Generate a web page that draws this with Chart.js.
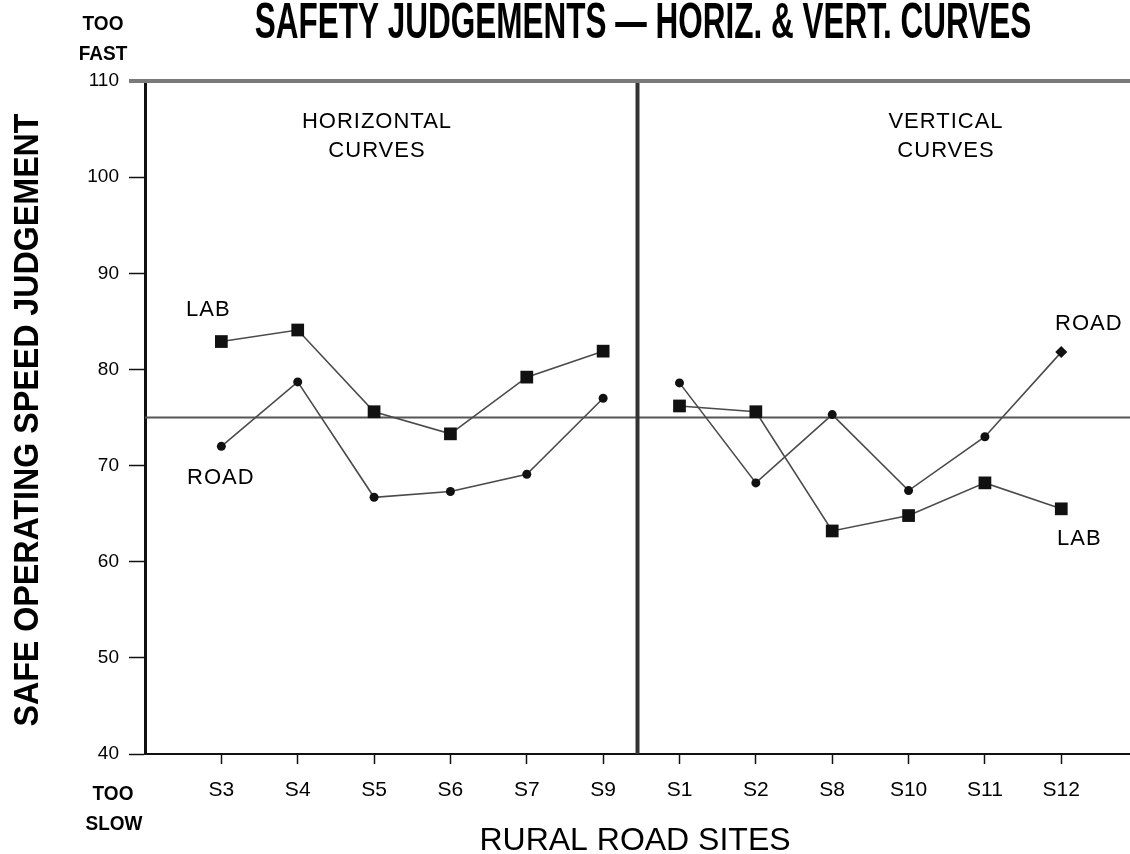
<!DOCTYPE html>
<html>
<head>
<meta charset="utf-8">
<script src="https://cdn.jsdelivr.net/npm/chart.js@4/dist/chart.umd.min.js"></script>
<style>
  html, body { margin: 0; padding: 0; background: #fff; overflow: hidden; }
  canvas { display: block; }
</style>
</head>
<body>
<canvas id="safetyChart" width="1130" height="854"></canvas>
<script>
// rural road sites, horizontal curves first then vertical curves
const sites = ["S3", "S4", "S5", "S6", "S7", "S9", "S1", "S2", "S8", "S10", "S11", "S12"];
const horizCount = 6;

// safe operating speed judgements (km/h)
const labValues = [82.9, 84.1, 75.6, 73.3, 79.2, 81.9, 76.2, 75.6, 63.2, 64.8, 68.2, 65.5];
const roadValues = [72.0, 78.7, 66.7, 67.3, 69.1, 77.0, 78.6, 68.2, 75.3, 67.4, 73.0, 81.8];

const yTicks = [40, 50, 60, 70, 80, 90, 100, 110];
const neutralSpeed = 75;
const dividerAt = 5.45;

const FONT = '"Liberation Sans", Arial, Helvetica, sans-serif';

function points(values, from, to) {
  return values.slice(from, to).map((v, i) => ({ x: from + i, y: v }));
}

function series(label, values, from, to, style, radius) {
  return {
    label: label,
    data: points(values, from, to),
    borderColor: "#4a4a4a",
    borderWidth: 1.6,
    pointStyle: style,
    pointRadius: radius,
    pointBackgroundColor: "#111",
    pointBorderColor: "#111",
    pointBorderWidth: 0,
    fill: false,
    tension: 0
  };
}

const roadVert = series("ROAD", roadValues, horizCount, sites.length, "circle", 4.5);
roadVert.pointStyle = roadVert.data.map((p, i) => i === roadVert.data.length - 1 ? "rectRot" : "circle");
roadVert.pointRadius = roadVert.data.map((p, i) => i === roadVert.data.length - 1 ? 6 : 4.5);

const datasets = [
  series("LAB", labValues, 0, horizCount, "rect", 9),
  series("ROAD", roadValues, 0, horizCount, "circle", 4.5),
  series("LAB", labValues, horizCount, sites.length, "rect", 9),
  roadVert
];

function text(ctx, str, x, y, font, align, scaleX, spacing) {
  ctx.save();
  ctx.font = font;
  ctx.fillStyle = "#000";
  ctx.textAlign = align || "center";
  ctx.textBaseline = "alphabetic";
  if (spacing) ctx.letterSpacing = spacing + "px";
  ctx.translate(x, y);
  if (scaleX) ctx.scale(scaleX, 1);
  ctx.fillText(str, 0, 0);
  ctx.restore();
}

// reference lines, frame and all free-standing text
const decorations = {
  id: "decorations",
  beforeDatasetsDraw(chart) {
    const ctx = chart.ctx;
    const area = chart.chartArea;
    const xs = chart.scales.x;
    const ys = chart.scales.y;

    ctx.save();
    // "just right" line
    const y75 = ys.getPixelForValue(neutralSpeed);
    ctx.strokeStyle = "#555";
    ctx.lineWidth = 2;
    ctx.beginPath();
    ctx.moveTo(area.left, y75);
    ctx.lineTo(area.right, y75);
    ctx.stroke();

    // divider between the two groups of curves
    const xd = xs.getPixelForValue(dividerAt);
    ctx.strokeStyle = "#333";
    ctx.lineWidth = 4;
    ctx.beginPath();
    ctx.moveTo(xd, area.top);
    ctx.lineTo(xd, area.bottom);
    ctx.stroke();

    // top frame
    ctx.strokeStyle = "#7a7a7a";
    ctx.lineWidth = 4;
    ctx.beginPath();
    ctx.moveTo(area.left - 16, area.top);
    ctx.lineTo(area.right, area.top);
    ctx.stroke();
    ctx.restore();
  },
  afterDraw(chart) {
    const ctx = chart.ctx;
    text(ctx, "SAFETY JUDGEMENTS \u2014 HORIZ. & VERT. CURVES", 643, 38, "bold 50px " + FONT, "center", 0.63);

    text(ctx, "TOO", 103, 30, "bold 20px " + FONT, "center", 0.95);
    text(ctx, "FAST", 103, 60, "bold 20px " + FONT, "center", 0.95);
    text(ctx, "TOO", 113, 800, "bold 20px " + FONT, "center", 0.95);
    text(ctx, "SLOW", 114, 830, "bold 20px " + FONT, "center", 0.95);

    ctx.save();
    ctx.translate(38, 420);
    ctx.rotate(-Math.PI / 2);
    text(ctx, "SAFE OPERATING SPEED JUDGEMENT", 0, 0, "bold 35px " + FONT, "center", 0.92);
    ctx.restore();

    text(ctx, "RURAL ROAD SITES", 635, 850, "32px " + FONT, "center");

    text(ctx, "HORIZONTAL", 377, 128, "22px " + FONT, "center", 1, 1);
    text(ctx, "CURVES", 377, 157, "22px " + FONT, "center", 1, 1);
    text(ctx, "VERTICAL", 946, 128, "22px " + FONT, "center", 1, 1);
    text(ctx, "CURVES", 946, 157, "22px " + FONT, "center", 1, 1);

    text(ctx, "LAB", 186, 316, "22px " + FONT, "left", 1, 1);
    text(ctx, "ROAD", 187, 484, "22px " + FONT, "left", 1, 1);
    text(ctx, "ROAD", 1055, 330, "22px " + FONT, "left", 1, 1);
    text(ctx, "LAB", 1057, 545, "22px " + FONT, "left", 1, 1);
  }
};

const ctxChart = document.getElementById("safetyChart").getContext("2d");

const chart = new Chart(ctxChart, {
  type: "line",
  data: { datasets: datasets },
  options: {
    responsive: false,
    animation: false,
    devicePixelRatio: 1,
    layout: { autoPadding: false, padding: { left: 0, top: 81, right: 0, bottom: 0 } },
    plugins: {
      legend: { display: false },
      tooltip: { enabled: false },
      title: { display: false }
    },
    scales: {
      x: {
        type: "linear",
        min: -1,
        max: 11.9,
        afterBuildTicks: (axis) => {
          axis.ticks = sites.map((s, i) => ({ value: i }));
        },
        afterFit: (axis) => {
          axis.height = 100;
          axis.paddingLeft = 0;
          axis.paddingRight = 0;
        },
        grid: {
          drawOnChartArea: false,
          drawTicks: true,
          tickLength: 10,
          tickColor: "#111",
          tickWidth: 1.5
        },
        border: { display: true, color: "#111", width: 2 },
        ticks: {
          autoSkip: false,
          maxRotation: 0,
          padding: 14,
          color: "#000",
          font: { family: FONT, size: 21 },
          callback: (v) => sites[v] || ""
        }
      },
      y: {
        min: 40,
        max: 110,
        afterBuildTicks: (axis) => {
          axis.ticks = yTicks.map((v) => ({ value: v }));
        },
        afterFit: (axis) => { axis.width = 145; },
        grid: {
          drawOnChartArea: false,
          drawTicks: true,
          tickLength: 16,
          tickColor: "#111",
          tickWidth: 1.5
        },
        border: { display: true, color: "#111", width: 3 },
        ticks: {
          padding: 10,
          color: "#000",
          font: { family: FONT, size: 19 }
        }
      }
    }
  },
  plugins: [decorations]
});
</script>
</body>
</html>
